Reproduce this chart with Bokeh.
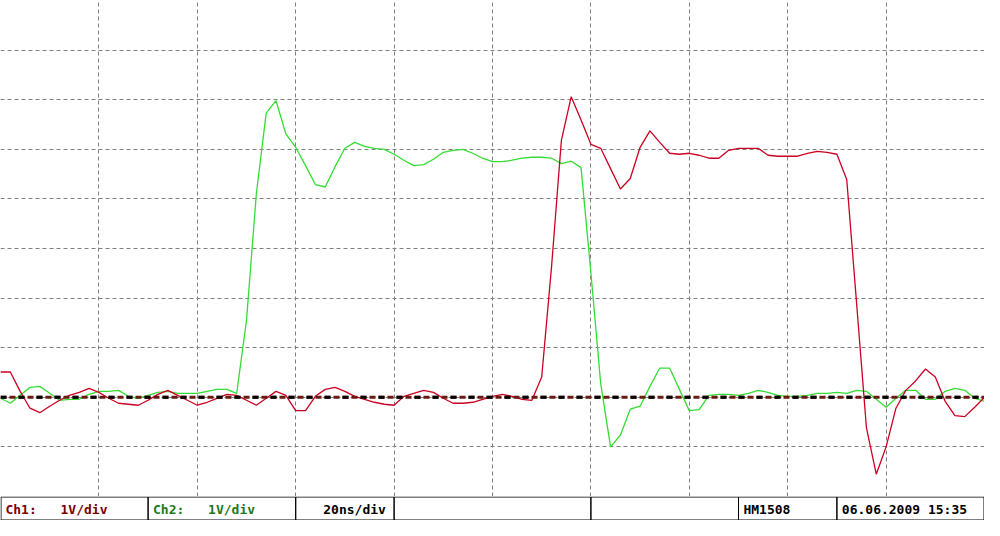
from bokeh.plotting import figure
from bokeh.models import Range1d, FixedTicker, Grid, Span
from bokeh.layouts import column
from bokeh.embed import file_html
from bokeh.resources import INLINE
from bokeh.core.properties import value

time_ns = [i * 2 for i in range(101)]  # 0 .. 200 ns, 20 ns/div

ch1_volts = [0.51, 0.51, 0.12, -0.22, -0.31, -0.18, -0.06, 0.04, 0.10, 0.18,
             0.10, -0.02, -0.12, -0.14, -0.16, -0.06, 0.06, 0.14, 0.04, -0.06,
             -0.16, -0.10, -0.02, 0.06, 0.04, -0.06, -0.16, -0.02, 0.12, 0.04,
             -0.27, -0.27, 0.02, 0.16, 0.20, 0.12, 0.02, -0.04, -0.10, -0.14,
             -0.16, 0.02, 0.08, 0.14, 0.10, -0.02, -0.12, -0.12, -0.10, -0.04,
             0.02, 0.06, 0.02, -0.04, -0.06, 0.41, 2.63, 5.18, 6.06, 5.59,
             5.10, 5.02, 4.61, 4.20, 4.41, 5.04, 5.37, 5.14, 4.92, 4.90,
             4.92, 4.88, 4.82, 4.82, 4.98, 5.02, 5.02, 5.02, 4.88, 4.86,
             4.86, 4.86, 4.92, 4.96, 4.94, 4.90, 4.39, 1.90, -0.61, -1.55,
             -1.00, -0.22, 0.14, 0.33, 0.57, 0.41, -0.08, -0.37, -0.39, -0.20,
             0.00]

ch2_volts = [-0.02, -0.12, 0.04, 0.20, 0.22, 0.08, -0.06, -0.04, -0.04, 0.06,
             0.12, 0.12, 0.14, 0.02, -0.02, 0.04, 0.10, 0.12, 0.08, 0.08,
             0.08, 0.12, 0.16, 0.16, 0.08, 1.55, 4.10, 5.73, 5.98, 5.31,
             5.04, 4.67, 4.29, 4.24, 4.65, 5.02, 5.14, 5.06, 5.02, 5.00,
             4.90, 4.78, 4.67, 4.69, 4.80, 4.94, 4.98, 5.00, 4.92, 4.82,
             4.75, 4.75, 4.78, 4.82, 4.84, 4.84, 4.82, 4.71, 4.76, 4.63,
             2.51, 0.27, -1.00, -0.76, -0.24, -0.18, 0.22, 0.59, 0.59, 0.16,
             -0.27, -0.25, 0.04, 0.06, 0.06, 0.04, 0.08, 0.14, 0.10, 0.04,
             0.02, 0.02, 0.04, 0.08, 0.08, 0.10, 0.08, 0.14, 0.12, -0.04,
             -0.20, -0.02, 0.14, 0.14, -0.04, -0.04, 0.12, 0.18, 0.14, -0.02,
             -0.08]

x_ticks = [0, 20, 40, 60, 80, 100, 120, 140, 160, 180, 200]
y_ticks = [-2, -1, 0, 1, 2, 3, 4, 5, 6, 7, 8]

status_texts = ["Ch1:", "1V/div", "Ch2:", "1V/div", "20ns/div", "HM1508", "06.06.2009 15:35"]
status_colors = ["#7a0000", "#7a0000", "#1a7a1a", "#1a7a1a", "black", "black", "black"]
status_x = [5, 61, 155, 211, 328, 755, 855]
cell_left = [0.5, 150, 300, 400, 600, 750, 850]
cell_right = [150, 300, 400, 600, 750, 850, 999.5]

W = 984

# ---- main screen ----
p = figure(width=W, height=496, x_range=Range1d(0, 200), y_range=Range1d(-2, 8),
           output_backend="svg", toolbar_location=None, min_border=0,
           x_axis_location=None, y_axis_location=None)
p.grid.visible = False
p.outline_line_color = None
p.background_fill_color = "white"
p.border_fill_color = "white"

p.add_layout(Grid(dimension=0, ticker=FixedTicker(ticks=x_ticks),
                  grid_line_color="#808080", grid_line_dash="4 3", grid_line_width=1))
p.add_layout(Grid(dimension=1, ticker=FixedTicker(ticks=y_ticks),
                  grid_line_color="#808080", grid_line_dash="4 3", grid_line_width=1))

p.line(time_ns, ch2_volts, line_color="#33dd33", line_width=1.3)
p.line(time_ns, ch1_volts, line_color="#cc0022", line_width=1.3)

p.add_layout(Span(location=0, dimension="width", line_color="#6a1a10",
                  line_width=3, line_dash="6 3"))
p.add_layout(Span(location=0, dimension="width", line_color="black",
                  line_width=3, line_dash="6 12", line_dash_offset=0))

# ---- status bar ----
s = figure(width=W, height=24, x_range=Range1d(0, 1000), y_range=Range1d(0, 24),
           output_backend="svg", toolbar_location=None, min_border=0,
           x_axis_location=None, y_axis_location=None)
s.grid.visible = False
s.outline_line_color = None
s.background_fill_color = "white"
s.border_fill_color = "white"
s.quad(left=cell_left, right=cell_right, top=23.5, bottom=0.5,
       fill_color=None, line_color="black", line_width=1)
s.text(x=status_x, y=[11.5] * len(status_x), text=status_texts, text_color=status_colors,
       text_font=value("DejaVu Sans Mono"), text_font_style="bold",
       text_font_size="13px", text_baseline="middle", text_align="left")

layout = column(p, s, spacing=0)

open("out.html", "w").write(file_html(layout, INLINE))
